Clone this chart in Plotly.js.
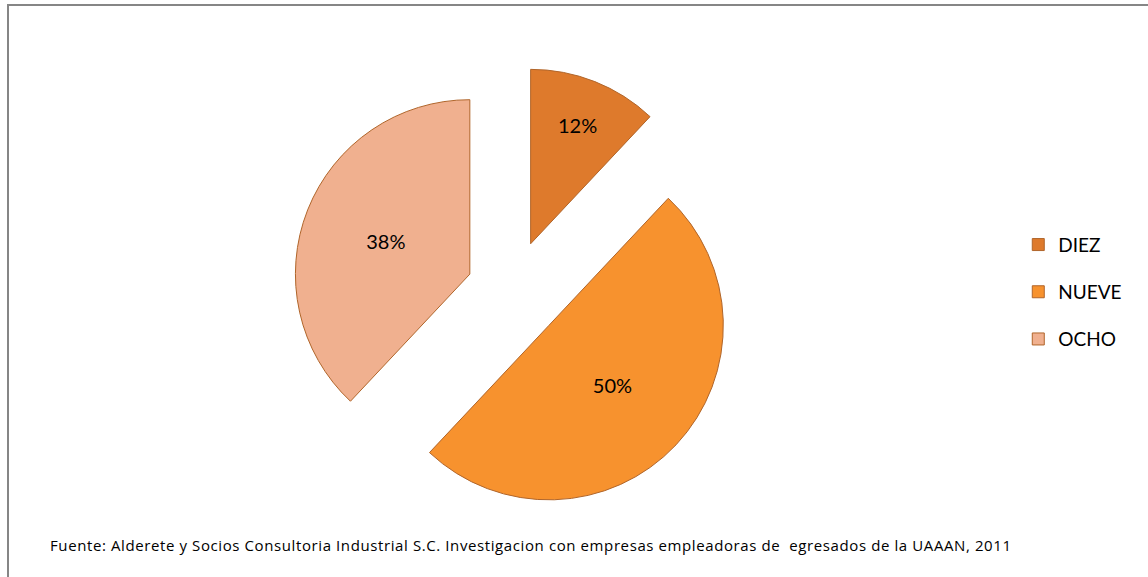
<!DOCTYPE html>
<html>
<head>
<meta charset="utf-8">
<script src="https://cdn.plot.ly/plotly-3.0.1.min.js"></script>
<style>html,body{margin:0;padding:0;background:#fff;}#chart{width:1148px;height:577px;}</style>
</head>
<body>
<div id="chart"></div>
<script>
const categories = ["DIEZ", "NUEVE", "OCHO"];
const values = [12, 50, 38];
const sliceColors = ["#DE7A2C", "#F7922E", "#F0B08F"];
const sourceNote = "Fuente: Alderete y Socios Consultoria Industrial S.C. Investigacion con empresas empleadoras de  egresados de la UAAAN, 2011";

// legend labels styled smaller than the legend font so items get the reference's wider spacing
const legendLabels = categories.map(c => '<span style="font-size:19px;baseline-shift:6px">' + c + '</span>');

const trace = {
  type: "pie",
  labels: legendLabels,
  values: values,
  sort: false,
  direction: "clockwise",
  rotation: 0,
  pull: [0.29, 0.29, 0.26],
  marker: {colors: sliceColors, line: {color: "#B0652A", width: 1}},
  textinfo: "percent",
  texttemplate: "%{percent:.0%}",
  textposition: "inside",
  insidetextorientation: "horizontal",
  textfont: {family: "Lato, 'Open Sans', sans-serif", size: 20, color: "#000"},
  hovertemplate: "%{percent:.0%}<extra></extra>",
  domain: {x: [0.25, 0.642], y: [0.106, 0.886]}
};

const layout = {
  width: 1148, height: 577,
  margin: {l: 0, r: 0, t: 0, b: 0},
  paper_bgcolor: "#fff",
  showlegend: true,
  legend: {
    x: 0.887, xanchor: "left", y: 0.494, yanchor: "middle",
    font: {family: "Lato, 'Open Sans', sans-serif", size: 34, color: "#000"},
    itemwidth: 30
  },
  shapes: [{
    type: "rect", xref: "paper", yref: "paper",
    x0: 8/1148, x1: 1.05, y0: -0.05, y1: 1 - 5/577,
    line: {color: "#868686", width: 2}
  }],
  annotations: [{
    text: '<span style="letter-spacing:0.6px">' + sourceNote + '</span>', showarrow: false,
    xref: "paper", yref: "paper", x: 48/1148, y: 1 - 545/577,
    xanchor: "left", yanchor: "middle",
    font: {family: "'Open Sans', sans-serif", size: 15, color: "#000"}
  }]
};

Plotly.newPlot("chart", [trace], layout, {displayModeBar: false});
</script>
</body>
</html>
